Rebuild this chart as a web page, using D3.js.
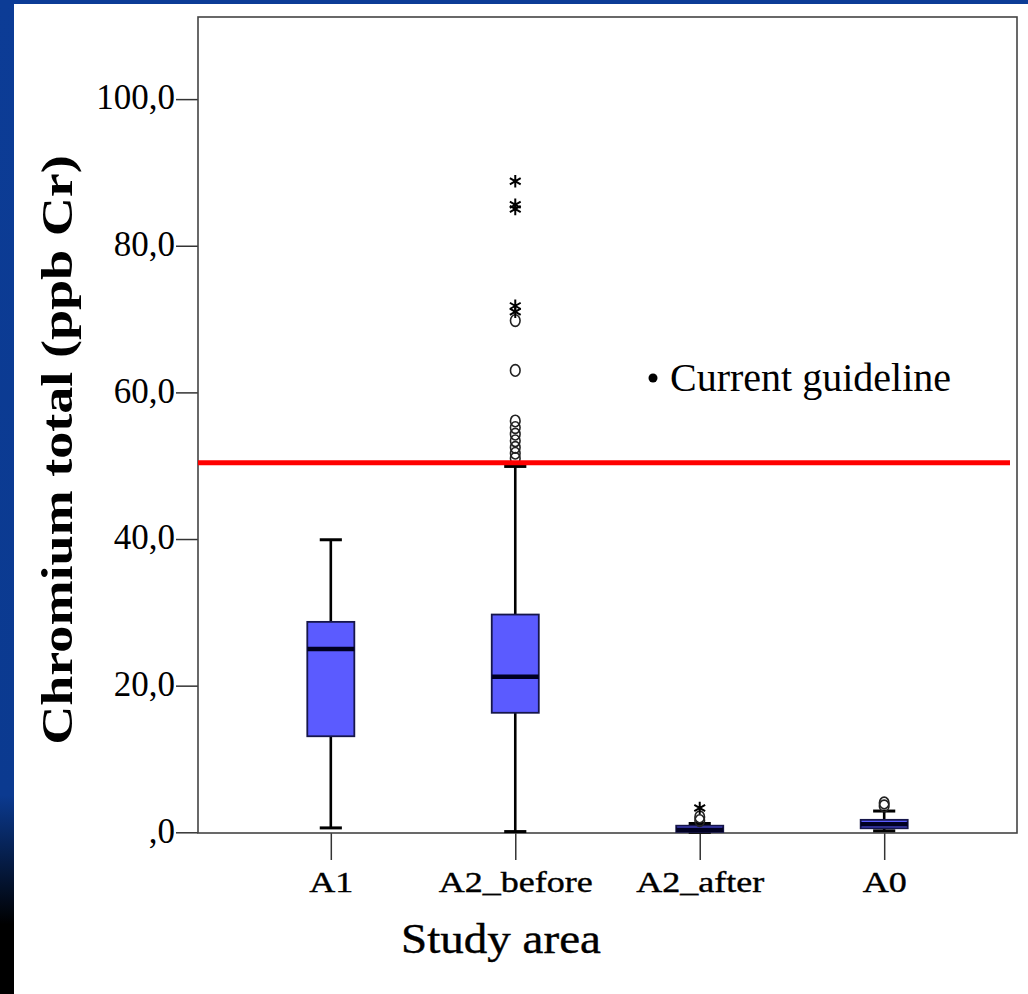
<!DOCTYPE html>
<html>
<head>
<meta charset="utf-8">
<script src="https://cdn.jsdelivr.net/npm/d3@7"></script>
<style>
  html, body { margin: 0; padding: 0; overflow: hidden; }
  body { width: 1028px; height: 994px; }
  svg { display: block; }
</style>
</head>
<body>
<svg id="chart" width="1028" height="994"></svg>
<script>
// box plot values (ppb Cr)
const categories = ["A1", "A2_before", "A2_after", "A0"];
const whiskerLow = [0.6, 0.1, 0.0, 0.2];
const q1 = [13.1, 16.3, 0.05, 0.55];
const median = [25.0, 21.2, 0.35, 1.1];
const q3 = [28.7, 29.7, 0.9, 1.7];
const whiskerHigh = [39.9, 49.9, 1.2, 2.9];
const outliers = [[], [69.8, 63.0, 56.1, 55.2, 54.3, 53.4, 52.5, 51.7, 51.0], [1.6, 2.1], [3.6, 4.0]];
const extremes = [[], [88.8, 85.6, 85.0, 71.8, 71.0], [3.3], []];
const yTicks = [0, 20, 40, 60, 80, 100];
const guideline = 50.4;
const guidelineLabel = "Current guideline";

const svg = d3.select("#chart");
const W = 1028, H = 994;
const frame = { left: 198, right: 1017, top: 17, bottom: 833 };

// background: blue slide with white panel
const defs = svg.append("defs");
const grad = defs.append("linearGradient").attr("id", "bg").attr("x1", 0).attr("y1", 0).attr("x2", 0).attr("y2", 1);
grad.append("stop").attr("offset", "0%").attr("stop-color", "#0c3c96");
grad.append("stop").attr("offset", "80%").attr("stop-color", "#0b3a90");
grad.append("stop").attr("offset", "93%").attr("stop-color", "#000000");
grad.append("stop").attr("offset", "100%").attr("stop-color", "#000000");
svg.append("rect").attr("width", W).attr("height", H).attr("fill", "url(#bg)");
svg.append("rect").attr("x", 14).attr("y", 4).attr("width", W - 14).attr("height", H - 4).attr("fill", "#fff");

const y = d3.scaleLinear().domain([0, 111.2]).range([832.3, frame.top]);
const x = d3.scalePoint().domain(categories).range([frame.left, frame.right]).padding(0.72);

const serif = "'Liberation Serif', 'Times New Roman', serif";

// y axis
const yAxis = svg.append("g")
  .attr("transform", `translate(${frame.left},0)`)
  .call(d3.axisLeft(y).tickValues(yTicks).tickSize(22).tickPadding(1)
    .tickFormat(v => v === 0 ? ",0" : d3.format(".1f")(v).replace(".", ",")));
yAxis.select(".domain").remove();
yAxis.selectAll("line").attr("stroke", "#333").attr("stroke-width", 1.5);
yAxis.selectAll("text")
  .attr("font-family", serif)
  .attr("font-size", 35)
  .attr("fill", "#000")
  .attr("dy", "0.28em");

// x axis
const xAxis = svg.append("g")
  .attr("transform", `translate(0,${frame.bottom})`)
  .call(d3.axisBottom(x).tickSize(27));
xAxis.select(".domain").remove();
xAxis.selectAll("line").attr("stroke", "#333").attr("stroke-width", 1.5);
xAxis.selectAll("text")
  .attr("font-family", serif)
  .attr("font-size", 30)
  .attr("fill", "#000")
  .attr("stroke", "#000").attr("stroke-width", 0.4)
  .attr("y", 0).attr("dy", 0)
  .attr("transform", "translate(0,59) scale(1.2,1)");

// frame
svg.append("rect")
  .attr("x", frame.left).attr("y", frame.top)
  .attr("width", frame.right - frame.left).attr("height", frame.bottom - frame.top)
  .attr("fill", "none").attr("stroke", "#444").attr("stroke-width", 1.6);

// boxes
const boxW = x.step() * 0.255;
const capW = x.step() * 0.12;
const idx = d3.range(categories.length);

const boxes = svg.append("g").selectAll("g")
  .data(idx)
  .join("g")
  .attr("transform", i => `translate(${x(categories[i])},0)`);

// whiskers
boxes.append("line")
  .attr("y1", i => y(whiskerLow[i])).attr("y2", i => y(whiskerHigh[i]))
  .attr("stroke", "#000").attr("stroke-width", 2.6);
boxes.append("line")
  .attr("x1", -capW / 2).attr("x2", capW / 2)
  .attr("y1", i => y(whiskerLow[i])).attr("y2", i => y(whiskerLow[i]))
  .attr("stroke", "#000").attr("stroke-width", 3);
boxes.append("line")
  .attr("x1", -capW / 2).attr("x2", capW / 2)
  .attr("y1", i => y(whiskerHigh[i])).attr("y2", i => y(whiskerHigh[i]))
  .attr("stroke", "#000").attr("stroke-width", 3);

boxes.append("rect")
  .attr("x", -boxW / 2).attr("width", boxW)
  .attr("y", i => y(q3[i]))
  .attr("height", i => y(q1[i]) - y(q3[i]))
  .attr("fill", "#5b5bff")
  .attr("stroke", "#16164a").attr("stroke-width", 1.8);

boxes.append("line")
  .attr("x1", -boxW / 2).attr("x2", boxW / 2)
  .attr("y1", i => y(median[i])).attr("y2", i => y(median[i]))
  .attr("stroke", "#000022").attr("stroke-width", 4.5);

// outliers (circles) and extremes (stars)
boxes.selectAll("ellipse")
  .data(i => outliers[i])
  .join("ellipse")
  .attr("cy", d => y(d))
  .attr("rx", 4.8).attr("ry", 5.8)
  .attr("fill", "none").attr("stroke", "#222").attr("stroke-width", 1.6);

const star = d3.symbol().type(d3.symbolAsterisk).size(110);
boxes.selectAll("path.star")
  .data(i => extremes[i])
  .join("path")
  .attr("class", "star")
  .attr("d", star)
  .attr("transform", d => `translate(0,${y(d)})`)
  .attr("fill", "none").attr("stroke", "#000").attr("stroke-width", 2);

// guideline
svg.append("line")
  .attr("x1", frame.left).attr("x2", 1010)
  .attr("y1", y(guideline)).attr("y2", y(guideline))
  .attr("stroke", "#ff0000").attr("stroke-width", 5);

svg.append("circle").attr("cx", 653).attr("cy", 378).attr("r", 4.5).attr("fill", "#000");
svg.append("text")
  .attr("x", 670).attr("y", 391)
  .attr("font-family", serif)
  .attr("font-size", 40)
  .attr("fill", "#000")
  .text(guidelineLabel);

// axis titles
svg.append("text")
  .attr("transform", "translate(72,450) rotate(-90) scale(1.23,1)")
  .attr("text-anchor", "middle")
  .attr("font-family", serif)
  .attr("font-weight", "bold")
  .attr("font-size", 44)
  .attr("fill", "#000")
  .text("Chromium total (ppb Cr)");

svg.append("text")
  .attr("transform", "translate(501,953) scale(1.12,1)")
  .attr("text-anchor", "middle")
  .attr("font-family", serif)
  .attr("font-size", 42)
  .attr("fill", "#000")
  .attr("stroke", "#000").attr("stroke-width", 0.4)
  .text("Study area");
</script>
</body>
</html>
